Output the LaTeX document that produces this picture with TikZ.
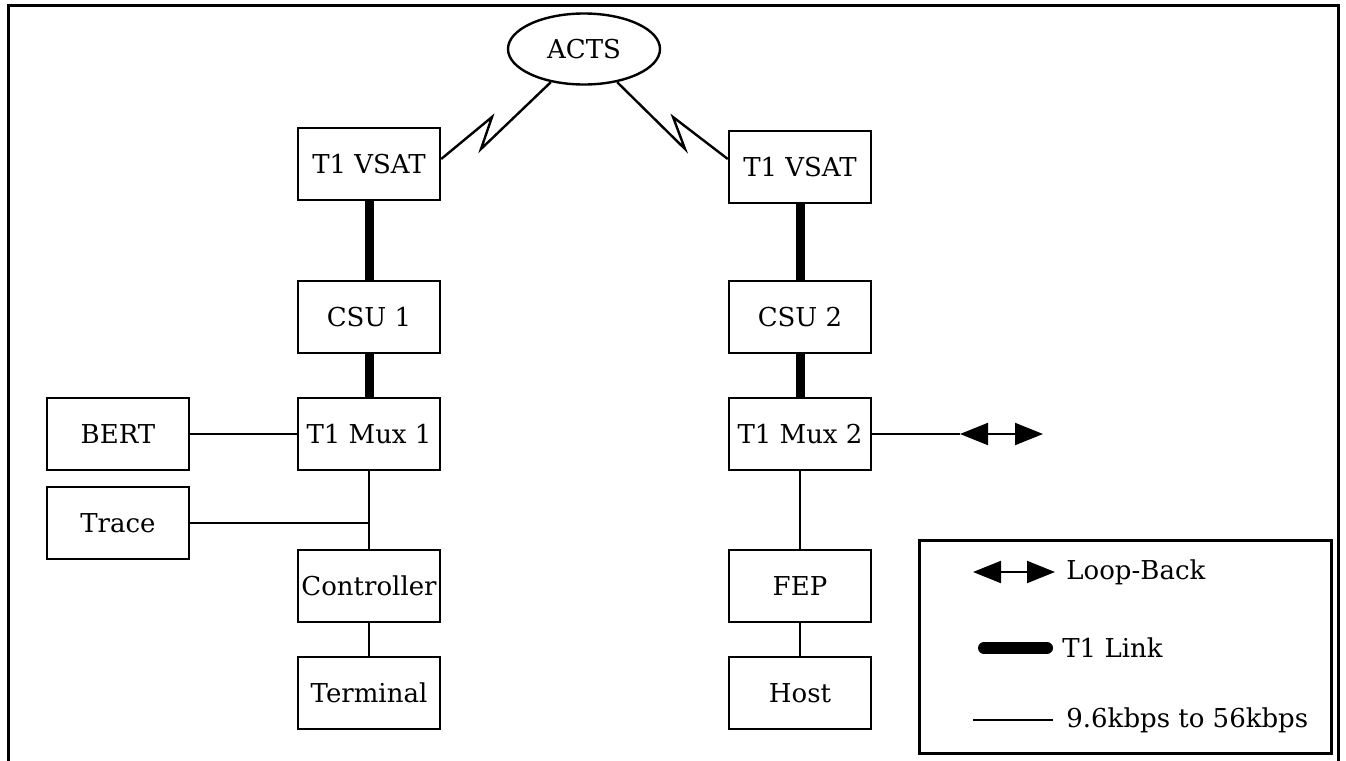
\documentclass[tikz,border=0pt]{standalone}
\usepackage{fontspec}
\setmainfont{DejaVu Serif}
\usetikzlibrary{arrows.meta,shapes.geometric}
\tikzset{
	unit/.style={draw, line width=1.2pt, minimum width=71pt, minimum height=36pt, inner sep=0pt, font=\fontsize{13}{15}\selectfont},
	keytext/.style={anchor=west, inner sep=0pt, font=\fontsize{13}{15}\selectfont},
	tlink/.style={line width=4.5pt},
	slow/.style={line width=1pt},
	radio/.style={line width=1.2pt, line join=miter},
	lbtip/.tip={Triangle[length=14pt,width=11pt]}
}

\begin{document}
\begin{tikzpicture}[x=0.5pt, y=-0.5pt]
			%%%%% START %%%%%
			\useasboundingbox (0,0) rectangle (1346,761);
			
			\draw[line width=1.5pt] (8,761) -- (8,5) -- (1338,5) -- (1338,761);
			
			\node[draw, ellipse, line width=1.2pt, minimum width=76pt, minimum height=35.5pt, inner sep=0pt, font=\fontsize{13}{15}\selectfont] (acts) at (584,49) {ACTS};
			
			% left side
			\node[unit] (vsatA) at (369,164) {T1 VSAT};
			\node[unit] (csuA) at (369,317) {CSU 1};
			\node[unit] (muxA) at (369,434) {T1 Mux 1};
			\node[unit] (bert) at (118,434) {BERT};
			\node[unit] (trace) at (118,523) {Trace};
			\node[unit] (ctrl) at (369,586) {Controller};
			\node[unit] (term) at (369,693) {Terminal};
			
			% right side
			\node[unit] (vsatB) at (800,167) {T1 VSAT};
			\node[unit] (csuB) at (800,317) {CSU 2};
			\node[unit] (muxB) at (800,434) {T1 Mux 2};
			\node[unit] (fep) at (800,586) {FEP};
			\node[unit] (host) at (800,693) {Host};
			
			% satellite hops
			\draw[radio] (acts.225) -- (481,149) -- (492,117) -- ([yshift=2.5pt]vsatA.east);
			\draw[radio] (acts.315) -- (685,149) -- (673,117) -- ([yshift=4pt]vsatB.west);
			
			\draw[tlink] (vsatA) -- (csuA);
			\draw[tlink] (csuA) -- (muxA);
			\draw[tlink] (vsatB) -- (csuB);
			\draw[tlink] (csuB) -- (muxB);
			
			\coordinate (tap) at (muxA.south |- trace.east);
			\draw[slow] (bert) -- (muxA);
			\draw[slow] (muxA) -- (ctrl);
			\draw[slow] (trace.east) -- (tap);
			\draw[slow] (ctrl) -- (term);
			
			\draw[slow] (muxB) -- (fep);
			\draw[slow] (fep) -- (host);
			
			\coordinate (lbL) at (960,434);
			\coordinate (lbR) at (1043,434);
			\draw[slow] (muxB) -- (lbL);
			\draw[slow, lbtip-lbtip] (lbL) -- (lbR);
			
			% legend
			\node[draw, line width=1.5pt, minimum width=206pt, minimum height=106.5pt, inner sep=0pt] (legend) at (1125,646.5) {};
			\coordinate (keyA) at (973,572);
			\coordinate (keyB) at (1055,572);
			\draw[slow, lbtip-lbtip] (keyA) -- (keyB);
			\node[keytext] (keyloop) at (1066,572) {Loop-Back};
			\coordinate (keyC) at (984,648);
			\coordinate (keyD) at (1047,648);
			\draw[line width=6pt, line cap=round] (keyC) -- (keyD);
			\node[keytext] (keyt1) at (1062,648) {T1 Link};
			\coordinate (keyE) at (973,720);
			\coordinate (keyF) at (1053,720);
			\draw[slow] (keyE) -- (keyF);
			\node[keytext] (keyslow) at (1066,720) {9.6kbps to 56kbps};
			
			%%%%% END %%%%%
\end{tikzpicture}
\end{document}
